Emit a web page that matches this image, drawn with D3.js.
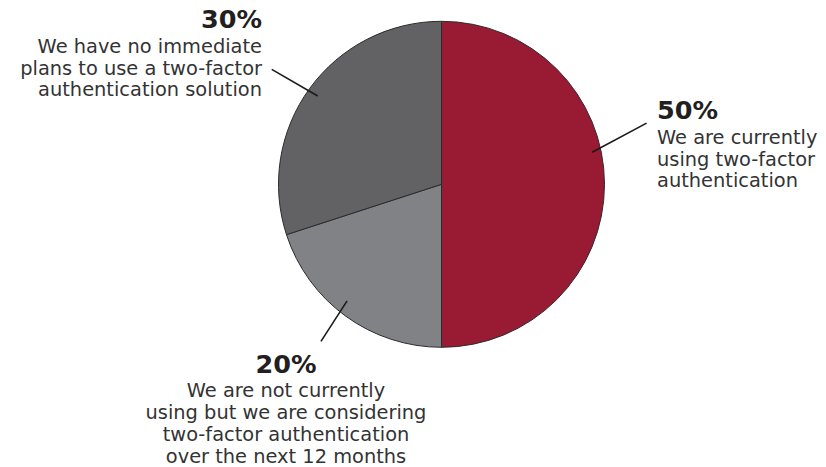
<!DOCTYPE html>
<html>
<head>
<meta charset="utf-8">
<script src="https://cdn.jsdelivr.net/npm/d3@7"></script>
<style>
  html, body { margin: 0; padding: 0; background: #fff; }
  svg { display: block; }
  text { font-family: "DejaVu Sans", sans-serif; fill: #231f20; }
</style>
</head>
<body>
<svg id="chart" width="826" height="467"></svg>
<script>
// Survey responses on two-factor authentication adoption
const categories = [
  "We are currently using two-factor authentication",
  "We are not currently using but we are considering two-factor authentication over the next 12 months",
  "We have no immediate plans to use a two-factor authentication solution"
];
const values = [50, 20, 30];
const colors = ["#981a33", "#808285", "#626264"];

// Line-broken label text for each slice
const labelLines = [
  ["We are currently", "using two-factor", "authentication"],
  ["We are not currently", "using but we are considering", "two-factor authentication", "over the next 12 months"],
  ["We have no immediate", "plans to use a two-factor", "authentication solution"]
];

// Label placement: leader angles (degrees clockwise from 12 o'clock) and text anchors
const layout = [
  { a0: 78, r0: 154, a1: 73.4, r1: 214, tx: 657, ty: 119.3, anchor: "start" },
  { a0: 219, r0: 150, a1: 217.5, r1: 198, tx: 286, ty: 372.7, anchor: "middle" },
  { a0: 305.5, r0: 152, a1: 304.1, r1: 205, tx: 262, ty: 28.3, anchor: "end" }
];

const cx = 441.5, cy = 184.3, R = 163;
const svg = d3.select("#chart");
const g = svg.append("g").attr("transform", `translate(${cx},${cy})`);

const pie = d3.pie().sort(null).value(d => d)(values);
const arc = d3.arc().innerRadius(0).outerRadius(R);

g.selectAll("path.slice")
  .data(pie)
  .join("path")
  .attr("class", "slice")
  .attr("d", arc)
  .attr("fill", (d, i) => colors[i])
  .attr("stroke", "#2b2b2b")
  .attr("stroke-width", 1);

const polar = (deg, r) => {
  const t = deg * Math.PI / 180;
  return [r * Math.sin(t), -r * Math.cos(t)];
};

// Leader lines
g.selectAll("line.leader")
  .data(layout)
  .join("line")
  .attr("class", "leader")
  .attr("x1", d => polar(d.a0, d.r0)[0])
  .attr("y1", d => polar(d.a0, d.r0)[1])
  .attr("x2", d => polar(d.a1, d.r1)[0])
  .attr("y2", d => polar(d.a1, d.r1)[1])
  .attr("stroke", "#1a1a1a")
  .attr("stroke-width", 1.6);

// Percentage and description labels
const labels = svg.selectAll("g.label")
  .data(pie)
  .join("g")
  .attr("class", "label");

labels.append("text")
  .attr("x", (d, i) => layout[i].tx)
  .attr("y", (d, i) => layout[i].ty)
  .attr("text-anchor", (d, i) => layout[i].anchor)
  .style("font-size", "25.5px")
  .style("font-weight", "bold")
  .text(d => d.data + "%");

labels.each(function(d, i) {
  const L = layout[i];
  d3.select(this).selectAll("text.desc")
    .data(labelLines[i])
    .join("text")
    .attr("class", "desc")
    .attr("x", L.tx)
    .attr("y", (s, j) => L.ty + 24.3 + j * 21.9)
    .attr("text-anchor", L.anchor)
    .style("font-size", "19.4px")
    .style("fill", "#333")
    .text(s => s);
});
</script>
</body>
</html>
